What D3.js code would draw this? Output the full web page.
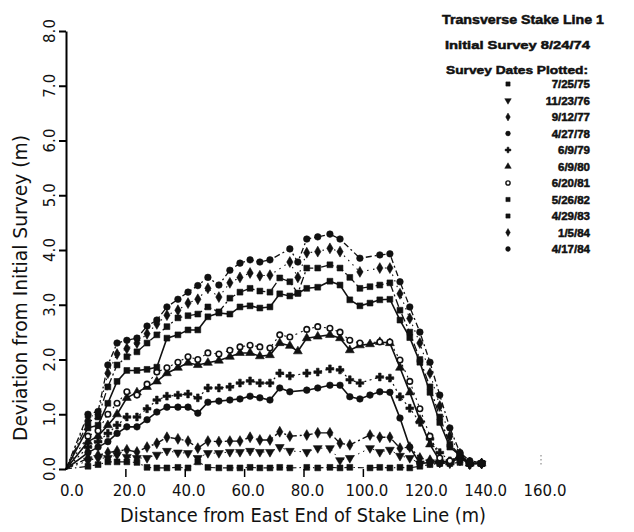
<!DOCTYPE html>
<html>
<head>
<meta charset="utf-8">
<script src="https://cdn.jsdelivr.net/npm/d3@7"></script>
<style>
  body { margin: 0; background: #fff; }
  svg { display: block; }
</style>
</head>
<body>
<svg id="chart" width="634" height="532"></svg>
<script>
// Stake stations along the line (m from the east end)
const stations = [0, 7.4, 10.8, 14.1, 17.2, 20.5, 23.9, 27.3, 30.6, 34.0, 37.7, 41.1, 44.4, 47.8, 51.5, 55.2, 58.6, 62.0, 65.3, 68.7, 72.0, 75.4, 78.1, 81.1, 84.8, 88.9, 92.3, 95.6, 99.0, 102.4, 105.7, 109.1, 112.5, 115.8, 119.2, 122.6, 125.9, 129.3, 132.7, 136.0, 140.0];

// Deviation from the initial survey (m) for each survey date, one value per station
const dev750725 = [0, 0.05, 0.08, 0.13, 0.13, 0.13, 0.12, 0.03, 0.02, 0.02, 0.03, 0.02, 0.13, 0.03, 0.02, 0.02, 0.02, 0.03, 0.02, 0.02, 0.03, 0.02, null, 0.03, 0.02, 0.03, 0.02, 0.03, null, 0.02, 0.03, 0.02, 0.03, 0.02, 0.05, 0.08, 0.1, 0.1, 0.12, 0.1, 0.1];
const dev761123 = [0, 0.15, 0.2, 0.2, 0.26, 0.22, 0.2, 0.2, 0.26, 0.33, 0.3, 0.29, 0.2, 0.29, 0.29, 0.31, 0.31, 0.33, 0.31, 0.31, 0.4, 0.33, null, 0.31, 0.38, 0.38, 0.16, 0.2, null, 0.38, 0.31, 0.35, 0.24, 0.2, 0.1, 0.12, 0.12, 0.1, 0.15, 0.08, 0.1];
const dev770912 = [0, 0.2, 0.25, 0.3, 0.33, 0.35, 0.31, 0.4, 0.47, 0.58, 0.55, 0.51, 0.38, 0.51, 0.5, 0.51, 0.51, 0.58, 0.53, 0.53, 0.68, 0.6, null, 0.62, 0.66, 0.66, 0.47, 0.44, null, 0.62, 0.58, 0.58, 0.38, 0.4, 0.2, 0.16, 0.12, 0.12, 0.2, 0.1, 0.1];
const dev780427 = [0, 0.3, 0.4, 0.5, 0.65, 0.77, 0.77, 0.9, 1.04, 1.13, 1.13, 1.13, 1.02, 1.22, 1.24, 1.26, 1.28, 1.33, 1.3, 1.26, 1.48, 1.41, null, 1.44, 1.48, 1.53, 1.53, 1.32, 1.28, 1.35, 1.41, 1.4, 0.93, 0.4, 0.1, 0.12, 0.1, 0.12, 0.2, 0.1, 0.1];
const dev790609 = [0, 0.4, 0.5, 0.65, 0.8, 0.95, 0.95, 1.1, 1.26, 1.33, 1.35, 1.37, 1.3, 1.48, 1.48, 1.5, 1.57, 1.61, 1.57, 1.57, 1.75, 1.7, null, 1.75, 1.77, 1.83, 1.81, 1.63, 1.57, null, 1.68, 1.66, 1.32, 1.11, 0.85, 0.55, 0.3, 0.15, 0.2, 0.08, 0.1];
const dev800609 = [0, 0.5, 0.6, 0.8, 1.0, 1.3, 1.4, 1.5, 1.6, 1.75, 1.85, 1.94, 1.9, 1.94, 1.98, 2.05, 2.12, 2.12, 2.06, 2.08, 2.3, 2.25, 2.15, 2.39, 2.42, 2.45, 2.39, 2.17, 2.26, 2.28, 2.32, 2.3, 1.85, 1.4, 0.9, 0.45, 0.15, 0.12, 0.25, 0.1, 0.1];
const dev810620 = [0, 0.6, 0.7, 1.0, 1.2, 1.41, 1.35, 1.55, 1.77, 1.85, 1.95, 2.05, 2.0, 2.12, 2.1, 2.17, 2.23, 2.26, 2.23, 2.21, 2.45, 2.41, null, 2.55, 2.6, 2.57, 2.5, 2.35, 2.3, null, 2.32, 2.32, 1.99, 1.6, 1.1, 0.6, 0.2, 0.15, 0.25, 0.1, 0.1];
const dev820526 = [0, 0.75, 0.8, 1.2, 1.6, 1.8, 1.8, 1.82, 1.86, 2.39, 2.45, 2.54, 2.54, 2.78, 2.85, 2.83, 2.96, 2.98, 2.94, 2.96, 3.2, 3.16, 3.21, 3.3, 3.32, 3.43, 3.36, 3.09, 2.98, 3.03, 3.09, 3.1, 2.72, 2.4, 1.95, 1.4, 0.85, 0.4, 0.25, 0.1, 0.1];
const dev830429 = [0, 0.85, 0.95, 1.5, 1.9, 2.05, 2.14, 2.3, 2.45, 2.6, 2.76, 2.8, 2.83, 2.96, 2.87, 3.12, 3.23, 3.3, 3.25, 3.23, 3.49, 3.42, 3.21, 3.67, 3.67, 3.73, 3.67, 3.5, 3.3, 3.33, 3.36, 3.4, 2.9, 2.5, 2.0, 1.5, 0.95, 0.45, 0.26, 0.1, 0.1];
const dev840105 = [0, 0.95, 1.0, 1.75, 2.1, 2.2, 2.3, 2.47, 2.65, 2.81, 2.9, 3.03, 3.1, 3.3, 3.14, 3.4, 3.5, 3.58, 3.53, 3.54, null, 3.78, 3.5, 3.95, 3.97, 4.03, 3.97, null, 3.6, null, 3.67, 3.67, 3.2, 2.75, 2.3, 1.75, 1.15, 0.6, 0.28, 0.12, 0.1];
const dev840417 = [0, 1.0, 1.05, 1.9, 2.3, 2.35, 2.39, 2.61, 2.72, 2.96, 3.1, 3.23, 3.35, 3.5, 3.36, 3.63, 3.76, 3.82, 3.78, 3.82, null, 4.02, 3.78, 4.2, 4.24, 4.29, 4.2, null, 3.85, null, 3.91, 3.93, 3.42, 2.96, 2.5, 1.95, 1.35, 0.75, 0.3, 0.15, 0.11];

const surveyDates = ["7/25/75", "11/23/76", "9/12/77", "4/27/78", "6/9/79", "6/9/80", "6/20/81", "5/26/82", "4/29/83", "1/5/84", "4/17/84"];
const xTicks = [0, 20, 40, 60, 80, 100, 120, 140, 160];
const yTicks = [0, 1, 2, 3, 4, 5, 6, 7, 8];

const seriesValues = [dev750725, dev761123, dev770912, dev780427, dev790609, dev800609, dev810620, dev820526, dev830429, dev840105, dev840417];

// Drawing styles, one per survey
const lineDash = ["6,3,1.5,3", "1.5,4", "8,3,2,3", null, "2,3.5", null, "2,4", null, "8,3,2,3", "1.5,4.5", "6,3,2,3"];
const lineWidth = [1.1, 1, 1.4, 1.6, 1.2, 1.6, 1.1, 1.6, 1.3, 1.1, 1.3];
const markerType = [d3.symbolSquare, d3.symbolTriangle, d3.symbolDiamond, d3.symbolCircle, d3.symbolCross, d3.symbolTriangle, d3.symbolCircle, d3.symbolSquare, d3.symbolSquare, d3.symbolDiamond, d3.symbolCircle];
const markerRot = [0, 180, 0, 0, 0, 0, 0, 0, 0, 0, 0];
const markerOpen = [false, false, false, false, false, false, true, false, false, false, false];

const svg = d3.select("#chart");
const x = d3.scaleLinear().domain([0, 160]).range([66, 541]);
const y = d3.scaleLinear().domain([0, 8]).range([469, 31]);

const tickFont = "'DejaVu Sans', sans-serif";
const ink = "#111";

svg.append("g").selectAll("text").data(yTicks).join("text")
  .attr("transform", d => `translate(50,${y(d)}) rotate(-90)`)
  .attr("text-anchor", "middle").attr("dy", "0.35em")
  .style("font-family", tickFont).style("font-size", "15px").attr("fill", ink)
  .text(d => d.toFixed(1));

svg.append("g").selectAll("text").data(xTicks).join("text")
  .attr("x", d => x(d) + (d === 0 ? 6 : 4)).attr("y", 496)
  .attr("text-anchor", "middle")
  .style("font-family", tickFont).style("font-size", "15px").attr("fill", ink)
  .text(d => d.toFixed(1));

// Axis titles
svg.append("text")
  .attr("x", 303).attr("y", 522).attr("text-anchor", "middle")
  .attr("textLength", 366).attr("lengthAdjust", "spacingAndGlyphs")
  .style("font-family", "'DejaVu Sans', sans-serif").style("font-size", "19px").attr("fill", ink)
  .text("Distance from East End of Stake Line (m)");

svg.append("text")
  .attr("transform", "translate(27,288) rotate(-90)").attr("text-anchor", "middle")
  .attr("textLength", 306).attr("lengthAdjust", "spacingAndGlyphs")
  .style("font-family", "'DejaVu Sans', sans-serif").style("font-size", "19px").attr("fill", ink)
  .text("Deviation from Initial Survey (m)");

// Survey profiles
const plot = svg.append("g");
seriesValues.forEach((vals, i) => {
  const pts = stations.map((s, k) => [s, vals[k]]).filter(p => p[1] !== null);
  const line = d3.line().x(p => x(p[0])).y(p => y(p[1]));
  plot.append("path").datum(pts)
    .attr("d", line).attr("fill", "none").attr("stroke", ink)
    .attr("stroke-width", lineWidth[i])
    .attr("stroke-dasharray", lineDash[i]);
  const sym = d3.symbol().type(markerType[i]).size(markerOpen[i] ? 24 : 34);
  plot.append("g").selectAll("path").data(pts.slice(1)).join("path")
    .attr("d", sym)
    .attr("transform", p => `translate(${x(p[0])},${y(p[1])}) rotate(${markerRot[i]})`)
    .attr("fill", markerOpen[i] ? "#fff" : ink)
    .attr("stroke", ink).attr("stroke-width", markerOpen[i] ? 1.6 : 0.6);
});

// Legend
const lg = svg.append("g").style("font-family", "'Liberation Sans', Arial, sans-serif").style("font-weight", "bold")
  .attr("fill", ink).attr("stroke", ink).attr("stroke-width", 0.5);
lg.append("text").attr("x", 442).attr("y", 24).attr("textLength", 162).attr("lengthAdjust", "spacingAndGlyphs")
  .style("font-size", "12.5px").text("Transverse Stake Line 1");
lg.append("text").attr("x", 445).attr("y", 49).attr("textLength", 145).attr("lengthAdjust", "spacingAndGlyphs")
  .style("font-size", "11.5px").text("Initial Survey 8/24/74");
lg.append("text").attr("x", 446).attr("y", 74).attr("textLength", 142).attr("lengthAdjust", "spacingAndGlyphs")
  .style("font-size", "11.5px").text("Survey Dates Plotted:");

const legendY = d3.scaleLinear().domain([0, 10]).range([84, 249]);
const items = lg.selectAll("g.item").data(surveyDates).join("g").attr("class", "item");
items.append("path")
  .attr("d", (d, i) => d3.symbol().type(markerType[i]).size(markerOpen[i] ? 14 : 18)())
  .attr("transform", (d, i) => `translate(508,${legendY(i)}) rotate(${markerRot[i]})`)
  .attr("fill", (d, i) => markerOpen[i] ? "#fff" : ink)
  .attr("stroke-width", (d, i) => markerOpen[i] ? 1.4 : 0.5);
items.append("text")
  .attr("x", 590).attr("y", (d, i) => legendY(i) + 4).attr("text-anchor", "end")
  .style("font-size", "11.5px").text(d => d);

// Axes, drawn last so nothing sits on top of them
const yAxis = d3.axisLeft(y).tickValues(yTicks).tickSize(7).tickSizeOuter(0).tickFormat(() => "");
const gy = svg.append("g").attr("class", "y-axis")
  .attr("transform", `translate(${x(0)},0)`)
  .style("color", "#000")
  .call(yAxis);
gy.selectAll("path, line").attr("stroke", "#000").attr("stroke-width", 2);

const xAxis = d3.axisBottom(x).tickValues(xTicks.slice(1, 6)).tickSize(8).tickSizeOuter(0).tickFormat(() => "");
const gx = svg.append("g").attr("class", "x-axis")
  .attr("transform", `translate(0,${y(0)})`)
  .style("color", "#000")
  .call(xAxis);
gx.select(".domain").remove();
gx.selectAll("line").attr("stroke", "#000").attr("stroke-width", 1.5);

svg.append("path")
  .attr("d", d3.line()([[x(160), y(0) - 14], [x(160), y(0) - 2]]))
  .attr("fill", "none").attr("stroke", "#777").attr("stroke-width", 1).attr("stroke-dasharray", "1.5,2.5");
</script>
</body>
</html>
